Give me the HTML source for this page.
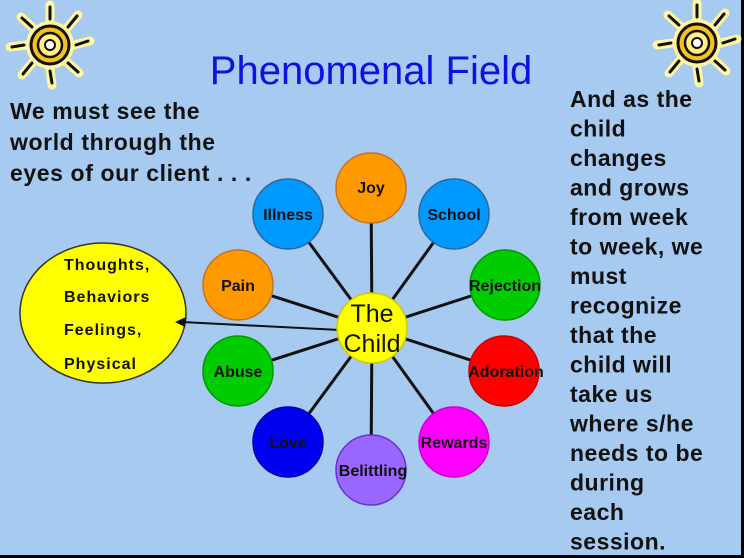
<!DOCTYPE html>
<html><head><meta charset="utf-8"><style>
html,body{margin:0;padding:0;background:#a6caf0;}
svg{display:block;}
text{font-family:"Liberation Sans",Arial,sans-serif;}
</style></head><body>
<svg width="744" height="558" viewBox="0 0 744 558" xmlns="http://www.w3.org/2000/svg">
<rect x="0" y="0" width="744" height="558" fill="#a6caf0"/>
<rect x="741" y="0" width="3" height="558" fill="#000"/>
<rect x="0" y="555" width="744" height="3" fill="#000"/>
<defs>
<g id="sun">
 <g stroke="#fff6a0" stroke-width="9" stroke-linecap="round">
  <line x1="0" y1="-24" x2="0" y2="-40"/><line x1="17" y1="-17" x2="28" y2="-30"/>
  <line x1="24" y1="0" x2="40" y2="-4"/><line x1="17" y1="17" x2="29" y2="28"/>
  <line x1="0" y1="24" x2="2" y2="40"/><line x1="-17" y1="17" x2="-28" y2="30"/>
  <line x1="-24" y1="0" x2="-40" y2="2"/><line x1="-17" y1="-17" x2="-29" y2="-28"/>
 </g>
 <g stroke="#111" stroke-width="3" stroke-linecap="round">
  <line x1="0" y1="-26" x2="0" y2="-38"/><line x1="18" y1="-18" x2="27" y2="-29"/>
  <line x1="26" y1="0" x2="38" y2="-4"/><line x1="18" y1="18" x2="28" y2="27"/>
  <line x1="0" y1="26" x2="2" y2="38"/><line x1="-18" y1="18" x2="-27" y2="29"/>
  <line x1="-26" y1="0" x2="-38" y2="2"/><line x1="-18" y1="-18" x2="-28" y2="-27"/>
 </g>
 <circle r="24" fill="#fff6a0"/>
 <circle r="19" fill="#f5c020" stroke="#111" stroke-width="3"/>
 <circle r="12" fill="#fff080" stroke="#111" stroke-width="2.5"/>
 <circle r="5" fill="#ffffff" stroke="#111" stroke-width="2"/>
</g>
</defs>
<use href="#sun" x="50" y="45"/>
<use href="#sun" x="697" y="43"/>
<text x="371" y="84" font-size="40" fill="#1010e0" text-anchor="middle">Phenomenal Field</text>
<g font-size="23" font-weight="bold" fill="#111" letter-spacing="0.6">
<text x="10" y="119">We must see the</text>
<text x="10" y="150">world through the</text>
<text x="10" y="181">eyes of our client . . .</text>
</g>
<g font-size="23" font-weight="bold" fill="#111" letter-spacing="0.5">
<text x="570" y="107">And as the</text>
<text x="570" y="136.5">child</text>
<text x="570" y="166">changes</text>
<text x="570" y="195.5">and grows</text>
<text x="570" y="225">from week</text>
<text x="570" y="254.5">to week, we</text>
<text x="570" y="284">must</text>
<text x="570" y="313.5">recognize</text>
<text x="570" y="343">that the</text>
<text x="570" y="372.5">child will</text>
<text x="570" y="402">take us</text>
<text x="570" y="431.5">where s/he</text>
<text x="570" y="461">needs to be</text>
<text x="570" y="490.5">during</text>
<text x="570" y="520">each</text>
<text x="570" y="549.5">session.</text>
</g>
<ellipse cx="103" cy="313" rx="83" ry="70" fill="#ffff00" stroke="#333" stroke-width="1.5"/>
<g font-size="16" font-weight="bold" fill="#111" letter-spacing="1">
<text x="64" y="270">Thoughts,</text>
<text x="64" y="302">Behaviors</text>
<text x="64" y="335">Feelings,</text>
<text x="64" y="369">Physical</text>
</g>
<g stroke="#111" stroke-width="3">
<line x1="372" y1="328" x2="371" y2="188"/>
<line x1="372" y1="328" x2="288" y2="214"/>
<line x1="372" y1="328" x2="454" y2="214"/>
<line x1="372" y1="328" x2="238" y2="285"/>
<line x1="372" y1="328" x2="505" y2="285"/>
<line x1="372" y1="328" x2="238" y2="371"/>
<line x1="372" y1="328" x2="504" y2="371"/>
<line x1="372" y1="328" x2="288" y2="442"/>
<line x1="372" y1="328" x2="454" y2="442"/>
<line x1="372" y1="328" x2="371" y2="470"/>
</g>
<line x1="340" y1="330" x2="182" y2="322" stroke="#111" stroke-width="2"/>
<polygon points="175,322 186,317 185,327" fill="#111"/>
<g stroke-width="1.5" font-size="16" font-weight="bold" text-anchor="middle">
<circle cx="371" cy="188" r="35" fill="#ff9900" stroke="#c87020"/>
<circle cx="288" cy="214" r="35" fill="#0099ff" stroke="#336699"/>
<circle cx="454" cy="214" r="35" fill="#0099ff" stroke="#336699"/>
<circle cx="238" cy="285" r="35" fill="#ff9900" stroke="#c87020"/>
<circle cx="505" cy="285" r="35" fill="#00cc00" stroke="#009900"/>
<circle cx="238" cy="371" r="35" fill="#00cc00" stroke="#009900"/>
<circle cx="504" cy="371" r="35" fill="#ff0000" stroke="#cc0000"/>
<circle cx="288" cy="442" r="35" fill="#0000ee" stroke="#0000aa"/>
<circle cx="454" cy="442" r="35" fill="#ff00ff" stroke="#cc00cc"/>
<circle cx="371" cy="470" r="35" fill="#9966ff" stroke="#6633cc"/>
<circle cx="372" cy="328" r="35" fill="#ffff00" stroke="#cccc00"/>
<g fill="#111">
<text x="371" y="193">Joy</text>
<text x="288" y="220">Illness</text>
<text x="454" y="220">School</text>
<text x="238" y="291">Pain</text>
<text x="505" y="291">Rejection</text>
<text x="238" y="377">Abuse</text>
<text x="506" y="377">Adoration</text>
<text x="288" y="448">Love</text>
<text x="454" y="448">Rewards</text>
<text x="373" y="476">Belittling</text>
</g>
</g>
<g font-size="25" fill="#111" text-anchor="middle">
<text x="372" y="322">The</text>
<text x="372" y="352">Child</text>
</g>
</svg>
</body></html>
